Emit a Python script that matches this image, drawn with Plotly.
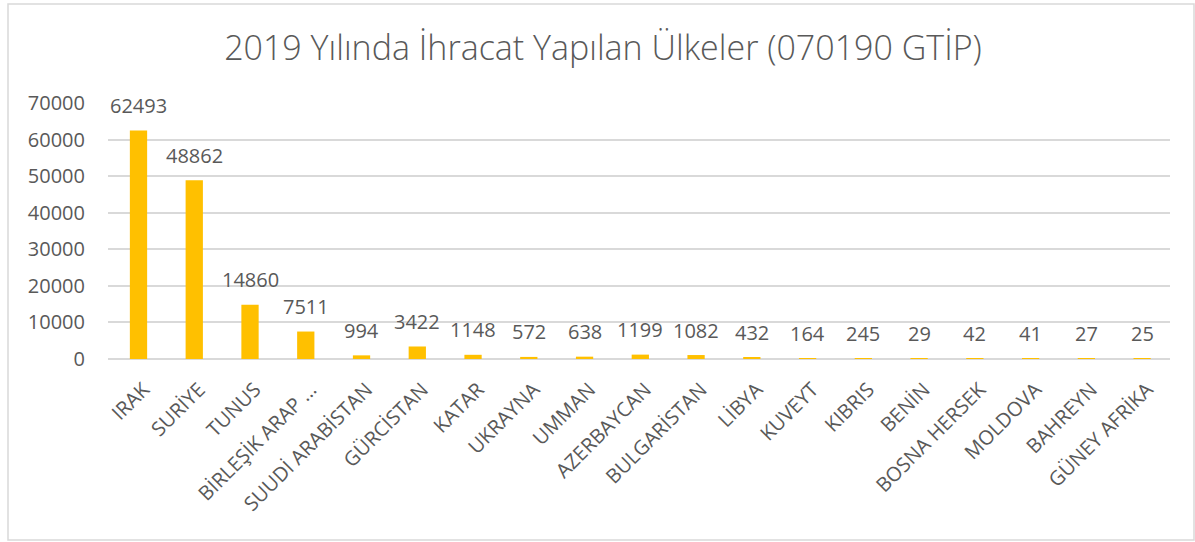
import plotly.graph_objects as go

countries = ["IRAK", "SURİYE", "TUNUS", "BİRLEŞİK ARAP ...", "SUUDİ ARABİSTAN", "GÜRCİSTAN",
             "KATAR", "UKRAYNA", "UMMAN", "AZERBAYCAN", "BULGARİSTAN", "LİBYA", "KUVEYT",
             "KIBRIS", "BENİN", "BOSNA HERSEK", "MOLDOVA", "BAHREYN", "GÜNEY AFRİKA"]
values = [62493, 48862, 14860, 7511, 994, 3422, 1148, 572, 638, 1199, 1082, 432, 164,
          245, 29, 42, 41, 27, 25]
y_ticks = [0, 10000, 20000, 30000, 40000, 50000, 60000, 70000]
title_text = "2019 Yılında İhracat Yapılan Ülkeler (070190 GTİP)"

W, H = 1195, 542
ml, mr, mt, mb = 108, 25, 103, 183
TXT = "#595959"
FONT = "Open Sans"

fig = go.Figure()
fig.add_trace(go.Bar(x=countries, y=values, marker=dict(color="#FFC000", line=dict(width=0)),
                     width=0.31, hoverinfo="x+y"))

for c, v in zip(countries, values):
    fig.add_annotation(x=c, y=v, text=str(v), showarrow=False, yanchor="middle",
                       xanchor="center", yshift=25,
                       font=dict(family=FONT, size=20, color=TXT))

pw, ph = W - ml - mr, H - mt - mb
fig.add_shape(type="rect", xref="paper", yref="paper",
              x0=(8 - ml) / pw, x1=(1194 - ml) / pw,
              y0=-(540 - (H - mb)) / ph, y1=1 + (mt - 4) / ph,
              line=dict(color="#D9D9D9", width=1.5), fillcolor="rgba(0,0,0,0)", layer="below")

fig.update_layout(
    width=W, height=H,
    margin=dict(l=ml, r=mr, t=mt, b=mb, autoexpand=False),
    paper_bgcolor="white", plot_bgcolor="white",
    showlegend=False,
    title=dict(text=title_text, x=603 / W, xanchor="center", y=1 - 48 / H, yanchor="middle",
               font=dict(family=FONT, size=34, color=TXT, weight=300)),
    xaxis=dict(tickangle=-45, tickfont=dict(family=FONT, size=20, color=TXT),
               showgrid=False, showline=False, ticks="", ticklabelstandoff=14,
               ticklabelshift=5),
    yaxis=dict(range=[0, 70000], tickvals=y_ticks, ticktext=[str(t) for t in y_ticks],
               tickfont=dict(family=FONT, size=20, color=TXT),
               showgrid=True, gridcolor="#D9D9D9", gridwidth=1.5, zeroline=True,
               zerolinecolor="#D9D9D9", zerolinewidth=1.5, showline=False, ticks="",
               ticklabelstandoff=22),
)

fig.write_html("out.html", config={"displayModeBar": False},
               post_script="document.body.style.margin='0';")
